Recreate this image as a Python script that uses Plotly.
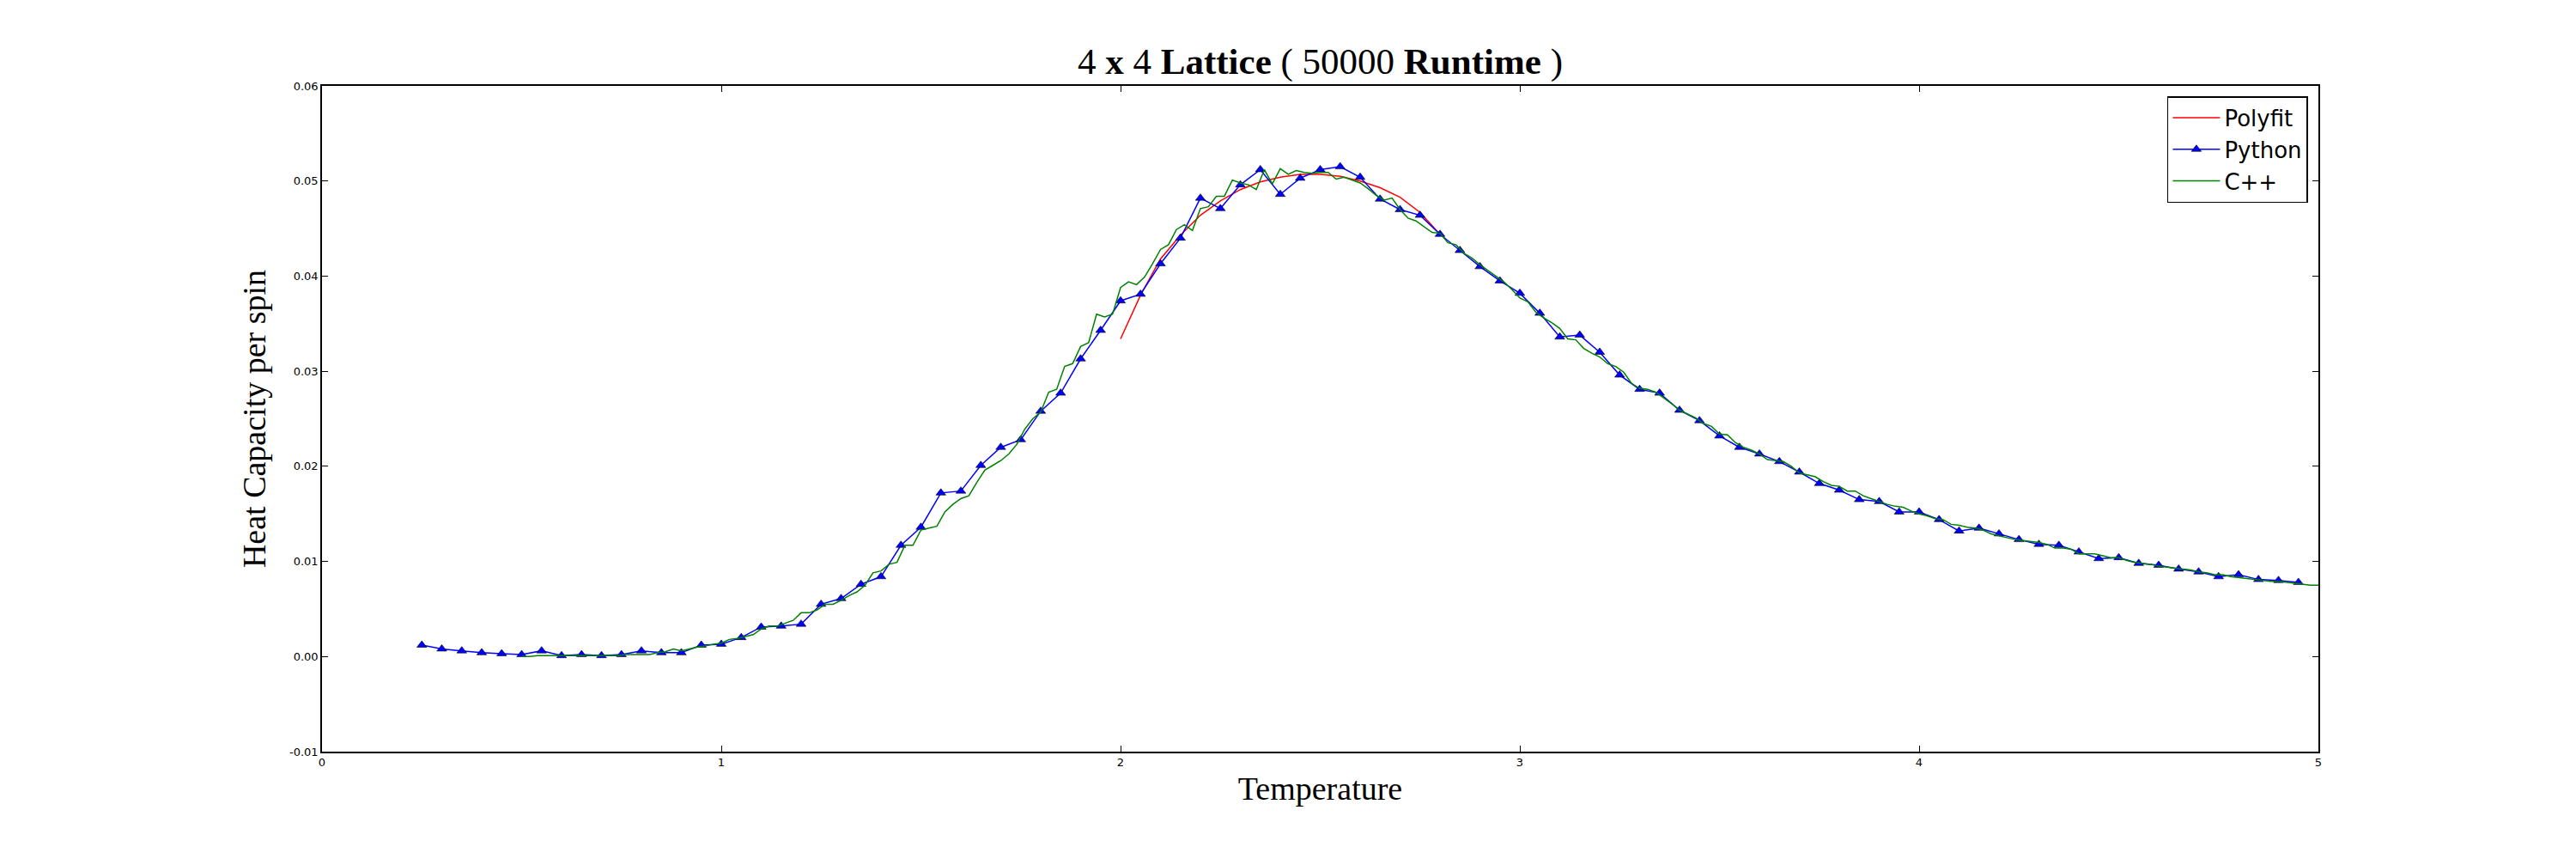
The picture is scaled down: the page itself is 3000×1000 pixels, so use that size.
import plotly.graph_objs as go

# heat capacity per spin, 4x4 lattice, 50000 runtime
# python run: T = 0.25 .. 4.95, step 0.05
heat_python = [
    0.0012, 0.0008, 0.0006, 0.0004, 0.0003, 0.0002, 0.0006, 0.0001, 0.0002, 0.0001,
    0.0002, 0.0006, 0.0004, 0.0004, 0.0012, 0.0013, 0.0020, 0.0031, 0.0032, 0.0034,
    0.0055, 0.0061, 0.0076, 0.0084, 0.0117, 0.0136, 0.0172, 0.0174, 0.0201, 0.0220,
    0.0228, 0.0258, 0.0277, 0.0313, 0.0343, 0.0374, 0.0381, 0.0413, 0.0440, 0.0482,
    0.0471, 0.0496, 0.0512, 0.0486, 0.0503, 0.0512, 0.0515, 0.0504, 0.0481, 0.0470,
    0.0464, 0.0444, 0.0427, 0.0410, 0.0395, 0.0382, 0.0361, 0.0336, 0.0338, 0.0320,
    0.0296, 0.0281, 0.0277, 0.0259, 0.0248, 0.0232, 0.0220, 0.0213, 0.0205, 0.0194,
    0.0182, 0.0175, 0.0165, 0.0163, 0.0152, 0.0152, 0.0144, 0.0132, 0.0135, 0.0129,
    0.0123, 0.0118, 0.0117, 0.0110, 0.0103, 0.0104, 0.0098, 0.0096, 0.0092, 0.0089,
    0.0084, 0.0086, 0.0081, 0.0080, 0.0078,
]
t_python = [round(0.25 + 0.05 * i, 2) for i in range(len(heat_python))]

# c++ run: T = 0.50 .. 5.00, step 0.02
heat_cpp = [
    0.0000, 0.0000, 0.0001, 0.0001, 0.0001, 0.0001, 0.0001, 0.0001, 0.0001, 0.0001,
    0.0001, 0.0001, 0.0001, 0.0002, 0.0002, 0.0002, 0.0002, 0.0004, 0.0005, 0.0008,
    0.0006, 0.0008, 0.0010, 0.0011, 0.0013, 0.0014, 0.0018, 0.0019, 0.0021, 0.0023,
    0.0029, 0.0032, 0.0032, 0.0035, 0.0038, 0.0046, 0.0046, 0.0049, 0.0055, 0.0055,
    0.0059, 0.0064, 0.0068, 0.0075, 0.0088, 0.0090, 0.0097, 0.0099, 0.0117, 0.0117,
    0.0133, 0.0135, 0.0137, 0.0152, 0.0160, 0.0166, 0.0169, 0.0183, 0.0196, 0.0201,
    0.0206, 0.0213, 0.0223, 0.0239, 0.0250, 0.0257, 0.0278, 0.0281, 0.0305, 0.0308,
    0.0326, 0.0330, 0.0360, 0.0357, 0.0360, 0.0388, 0.0394, 0.0391, 0.0399, 0.0413,
    0.0428, 0.0433, 0.0449, 0.0454, 0.0448, 0.0471, 0.0473, 0.0484, 0.0484, 0.0501,
    0.0498, 0.0496, 0.0491, 0.0512, 0.0497, 0.0513, 0.0507, 0.0511, 0.0509, 0.0508,
    0.0509, 0.0509, 0.0502, 0.0504, 0.0501, 0.0498, 0.0492, 0.0485, 0.0480, 0.0482,
    0.0470, 0.0461, 0.0458, 0.0452, 0.0446, 0.0445, 0.0435, 0.0433, 0.0424, 0.0419,
    0.0412, 0.0406, 0.0400, 0.0394, 0.0386, 0.0377, 0.0373, 0.0362, 0.0356, 0.0351,
    0.0345, 0.0334, 0.0333, 0.0324, 0.0319, 0.0315, 0.0308, 0.0305, 0.0299, 0.0287,
    0.0282, 0.0281, 0.0278, 0.0272, 0.0266, 0.0259, 0.0255, 0.0251, 0.0245, 0.0242,
    0.0234, 0.0233, 0.0225, 0.0220, 0.0217, 0.0213, 0.0207, 0.0206, 0.0205, 0.0200,
    0.0193, 0.0191, 0.0189, 0.0184, 0.0180, 0.0179, 0.0174, 0.0174, 0.0169, 0.0166,
    0.0163, 0.0160, 0.0158, 0.0157, 0.0153, 0.0150, 0.0148, 0.0145, 0.0144, 0.0139,
    0.0138, 0.0136, 0.0135, 0.0133, 0.0129, 0.0127, 0.0125, 0.0123, 0.0122, 0.0121,
    0.0120, 0.0118, 0.0114, 0.0114, 0.0113, 0.0108, 0.0108, 0.0108, 0.0106, 0.0104,
    0.0104, 0.0101, 0.0099, 0.0098, 0.0097, 0.0095, 0.0094, 0.0093, 0.0092, 0.0091,
    0.0089, 0.0088, 0.0086, 0.0086, 0.0084, 0.0083, 0.0082, 0.0081, 0.0080, 0.0079,
    0.0079, 0.0078, 0.0077, 0.0076, 0.0075, 0.0075,
]
t_cpp = [round(0.50 + 0.02 * i, 2) for i in range(len(heat_cpp))]

# polyfit around the peak: T = 2.00 .. 2.80, step 0.05
heat_fit = [
    0.0334, 0.0380, 0.0418, 0.0443, 0.0464, 0.0479, 0.0491, 0.0499, 0.0504,
    0.0507, 0.0507, 0.0505, 0.0500, 0.0493, 0.0483, 0.0467, 0.0444,
]
t_fit = [round(2.00 + 0.05 * i, 2) for i in range(len(heat_fit))]

x_ticks = [0, 1, 2, 3, 4, 5]
y_ticks = [-0.01, 0.00, 0.01, 0.02, 0.03, 0.04, 0.05, 0.06]

SERIF = "Liberation Serif"
SANS = "DejaVu Sans"

fig = go.Figure()
fig.add_trace(go.Scatter(x=t_fit, y=heat_fit, mode='lines', name='Polyfit',
                         line=dict(color='#ff0000', width=1.5)))
fig.add_trace(go.Scatter(x=t_python, y=heat_python, mode='lines+markers', name='Python',
                         line=dict(color='#0000ff', width=1.5),
                         marker=dict(symbol='triangle-up', size=10, color='#0000ff',
                                     line=dict(color='black', width=0.6))))
fig.add_trace(go.Scatter(x=t_cpp, y=heat_cpp, mode='lines', name='C++',
                         line=dict(color='#008000', width=1.5)))

axis_common = dict(
    showline=True, linecolor='black', linewidth=1.5, mirror='ticks',
    ticks='inside', ticklen=7, tickwidth=1, tickcolor='black',
    showgrid=False, zeroline=False,
    tickfont=dict(family=SANS, size=13, color='black'),
)

fig.update_xaxes(range=[0, 5], tickvals=x_ticks, ticktext=[str(v) for v in x_ticks],
                 title=dict(text='Temperature', font=dict(family=SERIF, size=38, color='black'),
                            standoff=10),
                 **axis_common)
fig.update_yaxes(range=[-0.01, 0.06], tickvals=y_ticks,
                 ticktext=['%.2f' % v for v in y_ticks],
                 title=dict(text='Heat Capacity per spin',
                            font=dict(family=SERIF, size=38, color='black'), standoff=16),
                 **axis_common)

fig.update_layout(
    width=3000, height=1000,
    margin=dict(l=375, r=300, t=100, b=125, autoexpand=False),
    paper_bgcolor='white', plot_bgcolor='white',
    title=dict(text='4 <b>x</b> 4 <b>Lattice</b> ( 50000 <b>Runtime</b> )',
               x=0.5125, xanchor='center', y=0.914, yanchor='bottom',
               font=dict(family=SERIF, size=43, color='black')),
    legend=dict(x=0.9948, y=0.9845, xanchor='right', yanchor='top',
                bgcolor='white', bordercolor='black', borderwidth=1.5,
                font=dict(family=SANS, size=26, color='black'),
                tracegroupgap=0, itemwidth=55),
    showlegend=True,
)

# page body has an 8px default margin; drop it so the figure sits at 0,0
fig.write_html("out.html", config={'displayModeBar': False},
               post_script="document.body.style.margin='0';")
